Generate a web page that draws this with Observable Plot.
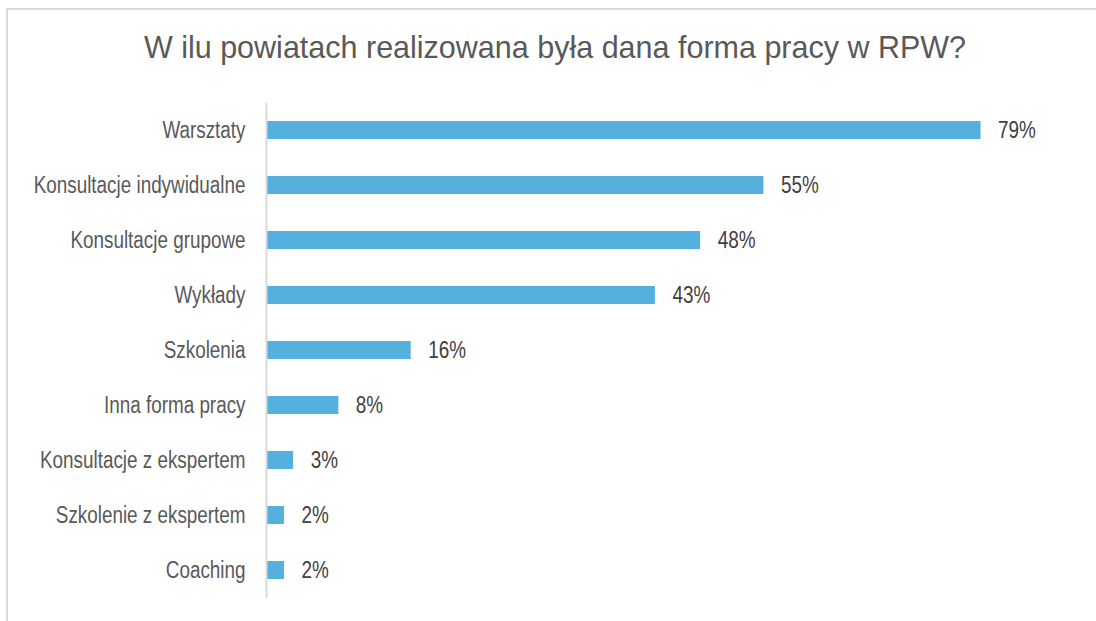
<!DOCTYPE html>
<html><head><meta charset="utf-8">
<script src="https://cdn.jsdelivr.net/npm/d3@7"></script>
<script src="https://cdn.jsdelivr.net/npm/@observablehq/plot@0.6"></script>
<style>
body{margin:0;background:#fff;font-family:"Liberation Sans",Arial,sans-serif;}
#wrap{position:relative;width:1096px;height:621px;overflow:hidden;}
#frame{position:absolute;left:6px;top:8px;width:1200px;height:700px;border-left:2px solid #d9d9d9;border-top:2px solid #d9d9d9;}
#title{position:absolute;left:0;width:1110px;top:30px;text-align:center;font-size:30.5px;color:#595959;white-space:nowrap;}
#chart{position:absolute;left:0;top:0;}
</style></head>
<body><div id="wrap"><div id="frame"></div><div id="title">W ilu powiatach realizowana była dana forma pracy w RPW?</div><div id="chart"></div></div>
<script>
const categories = ["Warsztaty","Konsultacje indywidualne","Konsultacje grupowe","Wykłady","Szkolenia","Inna forma pracy","Konsultacje z ekspertem","Szkolenie z ekspertem","Coaching"];
const values = [0.79,0.55,0.48,0.43,0.16,0.08,0.03,0.02,0.02];
const labels = ["79%","55%","48%","43%","16%","8%","3%","2%","2%"];
const data = categories.map((c,i)=>({cat:c,val:values[i],label:labels[i]}));
const font = "'Liberation Sans', Arial, sans-serif";
const chart = Plot.plot({
  width:1096, height:621,
  marginLeft:266, marginRight:16, marginTop:103, marginBottom:23,
  style:{fontFamily:font, background:"transparent"},
  x:{domain:[0,0.9], axis:null},
  y:{domain:categories, paddingInner:0.67, paddingOuter:0.335, label:null},
  marks:[
    Plot.barX(data,{x:"val", y:"cat", fill:"#56B0DD"}),
    Plot.ruleX([0],{stroke:"#d9d9d9", strokeWidth:2}),
    Plot.text(data,{x:"val", y:"cat", text:"label", textAnchor:"start", dx:17, fontSize:23, fill:"#404040", className:"vlab"}),
    Plot.axisY({tickSize:0, tickPadding:21, fontSize:23, fill:"#595959", label:null})
  ]
});
document.getElementById("chart").appendChild(chart);
// condense text horizontally (the reference uses a narrow Arial-like face)
chart.querySelectorAll("text").forEach(t => {
  const w = t.getComputedTextLength();
  if (w > 0) {
    t.setAttribute("textLength", (w * 0.82).toFixed(1));
    t.setAttribute("lengthAdjust", "spacingAndGlyphs");
  }
});
</script></body></html>
